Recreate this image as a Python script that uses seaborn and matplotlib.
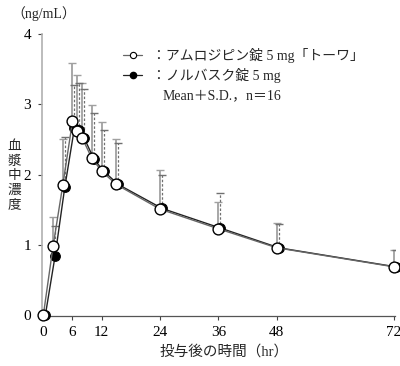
import matplotlib
matplotlib.use("Agg")
import matplotlib.pyplot as plt
import matplotlib.transforms as mtransforms
from matplotlib.lines import Line2D
import seaborn as sns
import pandas as pd
import numpy as np

# sampling times (hr)
times = [0, 2, 4, 6, 7, 8, 10, 12, 15, 24, 36, 48, 72]

# アムロジピン錠5mg「トーワ」 (open circles, solid SD bars)
towa_mean = [0, 0.98, 1.85, 2.76, 2.62, 2.52, 2.23, 2.05, 1.86, 1.51, 1.23, 0.96, 0.69]
towa_sd = [0, 0.42, 0.65, 0.83, 0.79, 0.79, 0.76, 0.70, 0.65, 0.55, 0.38, 0.35, 0.24]

# ノルバスク錠5mg (filled circles, dashed SD bars)
norv_mean = [0, 0.84, 1.82, 2.67, 2.63, 2.52, 2.22, 2.05, 1.86, 1.52, 1.24, 0.96, 0.69]
norv_sd = [0, 0.43, 0.72, 0.61, 0.68, 0.70, 0.65, 0.59, 0.59, 0.47, 0.50, 0.34, 0.24]

x_ticks = [0, 6, 12, 24, 36, 48, 72]
y_ticks = [0, 1, 2, 3, 4]

legend_labels = ["：アムロジピン錠 5 mg「トーワ」", "：ノルバスク錠 5 mg"]
stat_note = "Mean＋S.D.，n＝16"
y_title = "血漿中濃度"

sns.set_style("ticks")
plt.rcParams['font.family'] = ['Liberation Serif', 'Noto Sans CJK JP', 'DejaVu Sans']

df = pd.DataFrame({"time": times, "towa": towa_mean, "norv": norv_mean})

fig = plt.figure(figsize=(4.0, 3.66), dpi=100)
ax = fig.add_axes([0.105, 0.1366, 0.8825, 0.7705])

# small pixel shift so the two series do not hide each other
shift = mtransforms.offset_copy(ax.transData, fig=fig, x=2, y=0, units='dots')

# error bars (upper side only)
zeros = np.zeros(len(times))
ax.errorbar(times, towa_mean, yerr=[zeros, towa_sd], fmt='none', ecolor='#a0a0a0',
            elinewidth=1.3, capsize=3, capthick=1.0, zorder=2)
eb = ax.errorbar(times, norv_mean, yerr=[zeros, norv_sd], fmt='none', ecolor='#707070',
                 elinewidth=0.9, capsize=3, capthick=1.0, zorder=2, transform=shift)
for coll in eb[2]:
    coll.set_linestyle((0, (2, 1.5)))
for cap in eb[1]:
    cap.set_transform(shift)

sns.lineplot(data=df, x="time", y="norv", ax=ax, color='#222222', linewidth=1.0,
             marker='o', markersize=7, markerfacecolor='black', markeredgecolor='black',
             zorder=3, clip_on=False, transform=shift)
sns.lineplot(data=df, x="time", y="towa", ax=ax, color='#666666', linewidth=1.0,
             marker='o', markersize=7.8, markerfacecolor='white', markeredgecolor='black',
             markeredgewidth=1.0, zorder=4, clip_on=False)

ax.set_xlim(-0.27, 72.3)
ax.set_ylim(-0.01, 4.0)
ax.set_xticks(x_ticks)
ax.set_yticks(y_ticks)
ax.set_xlabel("")
ax.set_ylabel("")
ax.tick_params(axis='both', labelsize=11, length=3, width=0.8, colors='#444444', labelcolor='black')
ax.tick_params(axis='y', pad=5)
ax.tick_params(axis='x', pad=4)

for side in ['top', 'right']:
    ax.spines[side].set_visible(False)
ax.spines['left'].set_color('#b0b0b0')
ax.spines['left'].set_linewidth(1.2)
ax.spines['bottom'].set_color('#555555')
ax.spines['bottom'].set_linewidth(0.9)

# legend
handles = [
    Line2D([], [], color='#666666', lw=0.9, marker='o', markersize=4.5,
           markerfacecolor='white', markeredgecolor='black', markeredgewidth=0.8),
    Line2D([], [], color='#222222', lw=0.9, marker='o', markersize=4.5,
           markerfacecolor='black', markeredgecolor='black'),
]
ax.legend(handles, legend_labels, loc='upper left', bbox_to_anchor=(123 / 400, 1 - 48 / 366),
          bbox_transform=fig.transFigure, frameon=False, fontsize=10, handlelength=1.4,
          handletextpad=0.7, labelspacing=0.35, borderpad=0, borderaxespad=0)
fig.text(163 / 400, 1 - 96 / 366, stat_note, fontsize=10, va='center', ha='left')

fig.text(44 / 400, 1 - 14 / 366, "（ng/mL）", fontsize=10, va='center', ha='center')
# vertical, stacked y title
for i, ch in enumerate(y_title):
    fig.text(14 / 400, 1 - (150 + i * 14.5) / 366, ch, fontsize=9.8, va='baseline', ha='center',
             family='Noto Sans CJK JP')
fig.text(224 / 400, 1 - 352 / 366, "投与後の時間（hr）", fontsize=10.5, va='center', ha='center')

plt.savefig("out.png", dpi=100)
plt.close()
